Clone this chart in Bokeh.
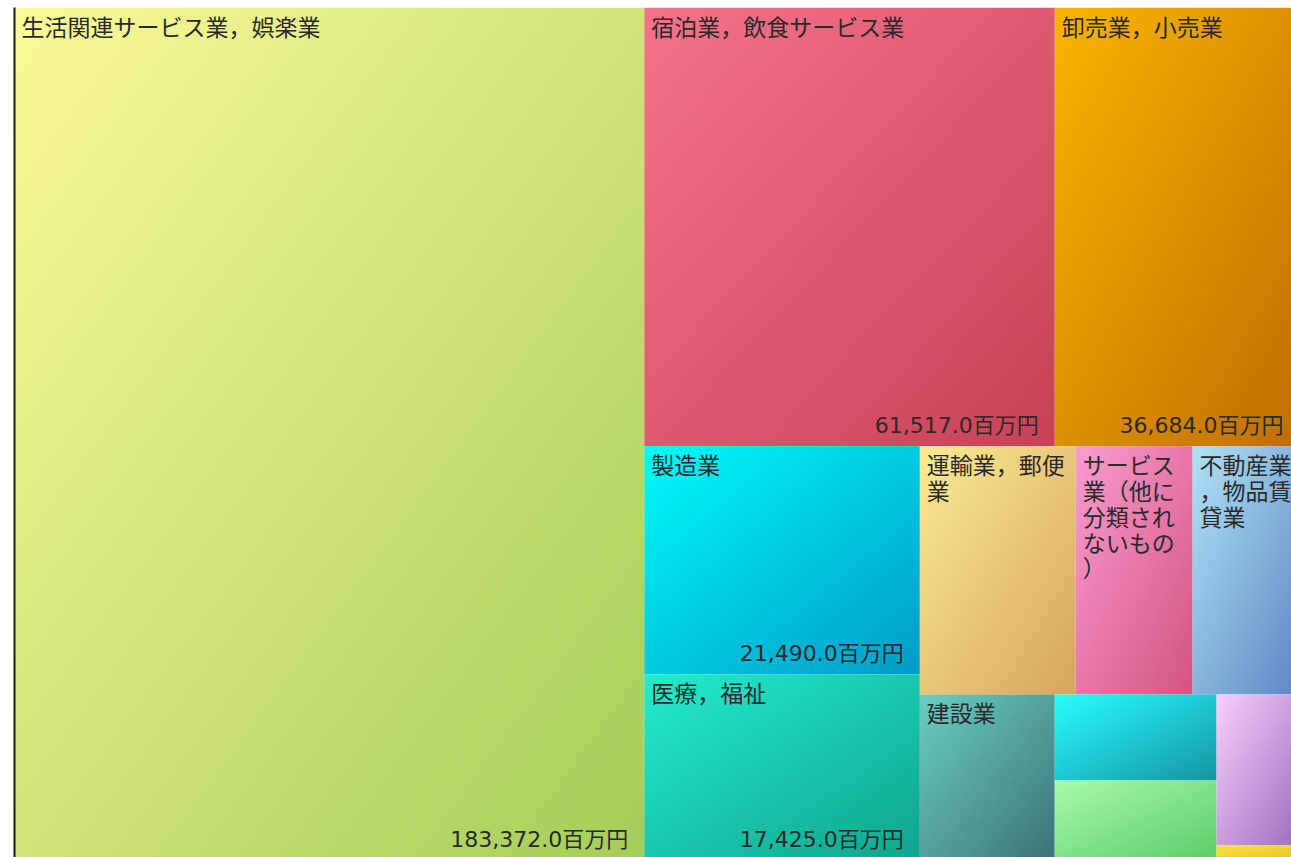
import numpy as np
from bokeh.plotting import figure
from bokeh.models import ColumnDataSource, Range1d, LinearAxis, FixedTicker
from bokeh.core.properties import value
from bokeh.embed import file_html
from bokeh.resources import INLINE

# ---- data ----
categories = [
    "生活関連サービス業，娯楽業",
    "宿泊業，飲食サービス業",
    "卸売業，小売業",
    "製造業",
    "医療，福祉",
    "運輸業，郵便業",
    "サービス業（他に分類されないもの）",
    "不動産業，物品賃貸業",
    "建設業",
    "情報通信業",
    "教育，学習支援業",
    "学術研究，専門・技術サービス業",
    "金融業，保険業",
]
amounts = [183372.0, 61517.0, 36684.0, 21490.0, 17425.0, 13220.0, 9920.0,
           9070.0, 7610.0, 4760.0, 4370.0, 4280.0, 400.0]
unit = "百万円"
colors_start = [(251, 251, 153), (245, 115, 137), (250, 180, 0), (0, 250, 250),
                (35, 235, 205), (250, 235, 145), (250, 155, 205), (175, 225, 245),
                (105, 205, 195), (40, 252, 252), (165, 250, 170), (248, 205, 252),
                (250, 225, 70)]
colors_end = [(165, 205, 90), (200, 65, 85), (190, 110, 0), (0, 155, 200),
              (15, 165, 140), (215, 165, 95), (210, 85, 130), (95, 135, 195),
              (60, 115, 120), (20, 150, 165), (95, 205, 105), (160, 110, 190),
              (235, 195, 40)]
group_sizes = [1, 2, 2, 3, 1, 2, 1, 1]

# ---- layout ----
LW, LH = 1285.0, 852.0          # full treemap size (layout units)
VIEW_W, VIEW_H = 1277.0, 850.0  # visible part
FIG_W, FIG_H = 1291, 857
BORDER_L, BORDER_T = 14, 7
FRAME_W = FIG_W - BORDER_L
sx = FRAME_W / VIEW_W
FS = 23


def squarify_groups(vals, groups, W, H):
    scale = W * H / sum(vals)
    out = []
    x, y, w, h = 0.0, 0.0, W, H
    i = 0
    for g in groups:
        items = vals[i:i + g]
        i += g
        area = sum(items) * scale
        if w >= h:
            cw = area / h
            yy = y
            for v in items:
                ih = v * scale / cw
                out.append((x, yy, cw, ih))
                yy += ih
            x += cw
            w -= cw
        else:
            rh = area / w
            xx = x
            for v in items:
                iw = v * scale / rh
                out.append((xx, y, iw, rh))
                xx += iw
            y += rh
            h -= rh
    return out


def char_w(c):
    return FS if ord(c) > 0x2E80 else FS * 0.56


def wrap(text, maxw):
    lines, cur, cw = [], "", 0.0
    for c in text:
        wc = char_w(c)
        if cur and cw + wc > maxw:
            lines.append(cur)
            cur, cw = c, wc
        else:
            cur += c
            cw += wc
    lines.append(cur)
    return "\n".join(lines)


def gradient(c1, c2, nx, ny):
    u = np.linspace(0, 1, nx)[None, :]
    v = np.linspace(1, 0, ny)[:, None]
    t = (u + v) / 2.0
    img = np.empty((ny, nx), dtype=np.uint32)
    view = img.view(dtype=np.uint8).reshape((ny, nx, 4))
    for k in range(3):
        view[:, :, k] = np.round(c1[k] + (c2[k] - c1[k]) * t).astype(np.uint8)
    view[:, :, 3] = 255
    return img


rects = squarify_groups(amounts, group_sizes, LW, LH)

imgs, xs, ys, ws, hs = [], [], [], [], []
nx_, ny_, nt, vx, vy, vt = [], [], [], [], [], []
for k, (x, t, w, h) in enumerate(rects):
    nx = max(8, int(w / 4))
    ny = max(8, int(h / 4))
    imgs.append(gradient(colors_start[k], colors_end[k], nx, ny))
    xs.append(x)
    ys.append(LH - t - h)
    ws.append(w)
    hs.append(h)
    wpx = w * sx
    if wpx >= 90 and h >= 100:
        nx_.append(x)
        ny_.append(LH - t)
        nt.append(wrap(categories[k], wpx - 14))
    if wpx >= 200 and h >= 100:
        vx.append(x + w)
        vy.append(LH - t - h)
        vt.append(f"{amounts[k]:,.1f}{unit}")

p = figure(width=FIG_W, height=FIG_H, output_backend="svg", toolbar_location=None,
           x_range=Range1d(0, VIEW_W), y_range=Range1d(LH - VIEW_H, LH),
           x_axis_location=None, y_axis_location=None,
           min_border_left=BORDER_L, min_border_right=0, min_border_top=BORDER_T,
           min_border_bottom=0)
p.grid.visible = False
p.outline_line_color = None
p.background_fill_color = "white"
p.border_fill_color = "white"

ax = LinearAxis(ticker=FixedTicker(ticks=[]), axis_line_color="#1a1a1a",
                axis_line_width=2, major_tick_line_color=None,
                minor_tick_line_color=None, major_label_text_font_size="0px")
p.add_layout(ax, "left")

p.image_rgba(source=ColumnDataSource(dict(image=imgs, x=xs, y=ys, dw=ws, dh=hs)),
             image="image", x="x", y="y", dw="dw", dh="dh")

p.text(source=ColumnDataSource(dict(x=nx_, y=ny_, t=nt)), x="x", y="y", text="t",
       text_font=value("Noto Sans CJK JP"), text_font_size=f"{FS}px",
       text_color="#2a2a2a", text_align="left", text_baseline="top",
       text_line_height=0.76, x_offset=7, y_offset=1)
p.text(source=ColumnDataSource(dict(x=vx, y=vy, t=vt)), x="x", y="y", text="t",
       text_font=value("DejaVu Sans, Noto Sans CJK JP"), text_font_size="22px",
       text_color="#2a2a2a", text_align="right", text_baseline="bottom",
       x_offset=-16, y_offset=-8)

open("out.html", "w").write(file_html(p, INLINE))
